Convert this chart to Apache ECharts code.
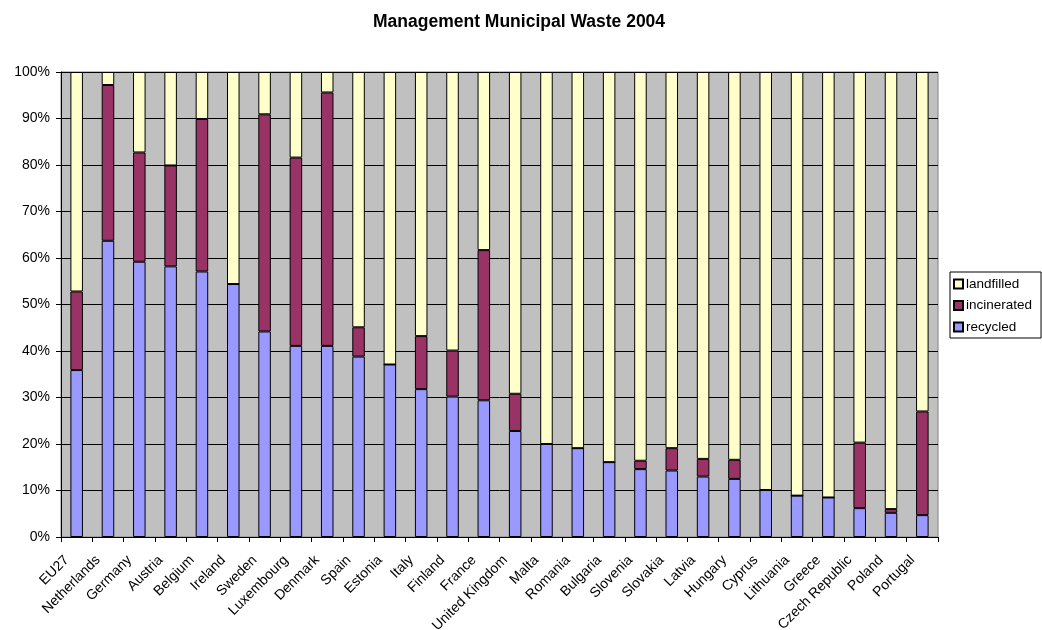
<!DOCTYPE html>
<html>
<head>
<meta charset="utf-8">
<script src="https://cdn.jsdelivr.net/npm/echarts@6/dist/echarts.min.js"></script>
<style>html,body{margin:0;padding:0;background:#fff}#c{width:1042px;height:630px}</style>
</head>
<body>
<div id="c"></div>
<script>
const categories = ["EU27","Netherlands","Germany","Austria","Belgium","Ireland","Sweden","Luxembourg","Denmark","Spain","Estonia","Italy","Finland","France","United Kingdom","Malta","Romania","Bulgaria","Slovenia","Slovakia","Latvia","Hungary","Cyprus","Lithuania","Greece","Czech Republic","Poland","Portugal"];
const recycled    = [35.9,63.7,59.2,58.2,57.1,54.4,44.2,41.1,41.1,38.8,37.1,31.8,30.2,29.4,22.8,20.0,19.1,16.1,14.6,14.3,13.0,12.5,10.1,8.9,8.5,6.2,5.2,4.7];
const incinerated = [16.9,33.5,23.5,21.7,32.8,0,46.7,40.5,54.5,6.3,0,11.4,9.9,32.3,8.0,0,0,0,1.8,4.8,3.8,4.1,0,0,0,14.1,0.8,22.3];
const landfilled  = [47.2,2.8,17.3,20.1,10.1,45.6,9.1,18.4,4.4,54.9,62.9,56.8,59.9,38.3,69.2,80.0,80.9,83.9,83.6,80.9,83.2,83.4,89.9,91.1,91.5,79.7,94.0,73.0];
const yTicks = [0,10,20,30,40,50,60,70,80,90,100];

const font = '"Liberation Sans", Arial, sans-serif';
const chart = echarts.init(document.getElementById('c'), null, {renderer:'canvas'});
const mk = (name, data, color) => ({
  name, type:'bar', stack:'total', data, barWidth:'40%',
  itemStyle:{color, borderColor:'#000', borderWidth:1},
  emphasis:{disabled:true}
});
chart.setOption({
  animation:false,
  title:{text:'Management Municipal Waste 2004', left:368, top:8,
    textStyle:{fontFamily:font, fontSize:17.5, fontWeight:'bold', color:'#000'}},
  grid:{left:61, right:104, top:72, bottom:93, containLabel:false, outerBoundsMode:'none',
    show:true, backgroundColor:'#C0C0C0', borderColor:'#808080', borderWidth:1},
  legend:{orient:'vertical', left:950, top:272, data:['landfilled','incinerated','recycled'],
    backgroundColor:'#fff', borderColor:'#000', borderWidth:1, padding:[5,9,4,3],
    itemWidth:9, itemHeight:9, itemGap:7.5, icon:'rect',
    textStyle:{fontFamily:font, fontSize:13.5, color:'#000', padding:[0,0,0,-2]}},
  xAxis:{type:'category', data:categories,
    axisLine:{lineStyle:{color:'#000', width:1}},
    axisTick:{show:true, interval:0, length:5, lineStyle:{color:'#000'}},
    axisLabel:{interval:0, rotate:45, fontFamily:font, fontSize:14, color:'#000', margin:11, padding:[0,14,0,0]},
    splitLine:{show:false}},
  yAxis:{type:'value', min:0, max:100, interval:10,
    axisLine:{show:true, lineStyle:{color:'#000', width:1}},
    axisTick:{show:true, length:5, lineStyle:{color:'#000'}},
    axisLabel:{fontFamily:font, fontSize:14, color:'#000', margin:11,
      formatter:v => yTicks.includes(v) ? v + '%' : ''},
    splitLine:{show:true, lineStyle:{color:'#000', width:1}}},
  series:[
    mk('recycled', recycled, '#9999FF'),
    mk('incinerated', incinerated, '#993366'),
    mk('landfilled', landfilled, '#FFFFCC')
  ]
});
</script>
</body>
</html>
